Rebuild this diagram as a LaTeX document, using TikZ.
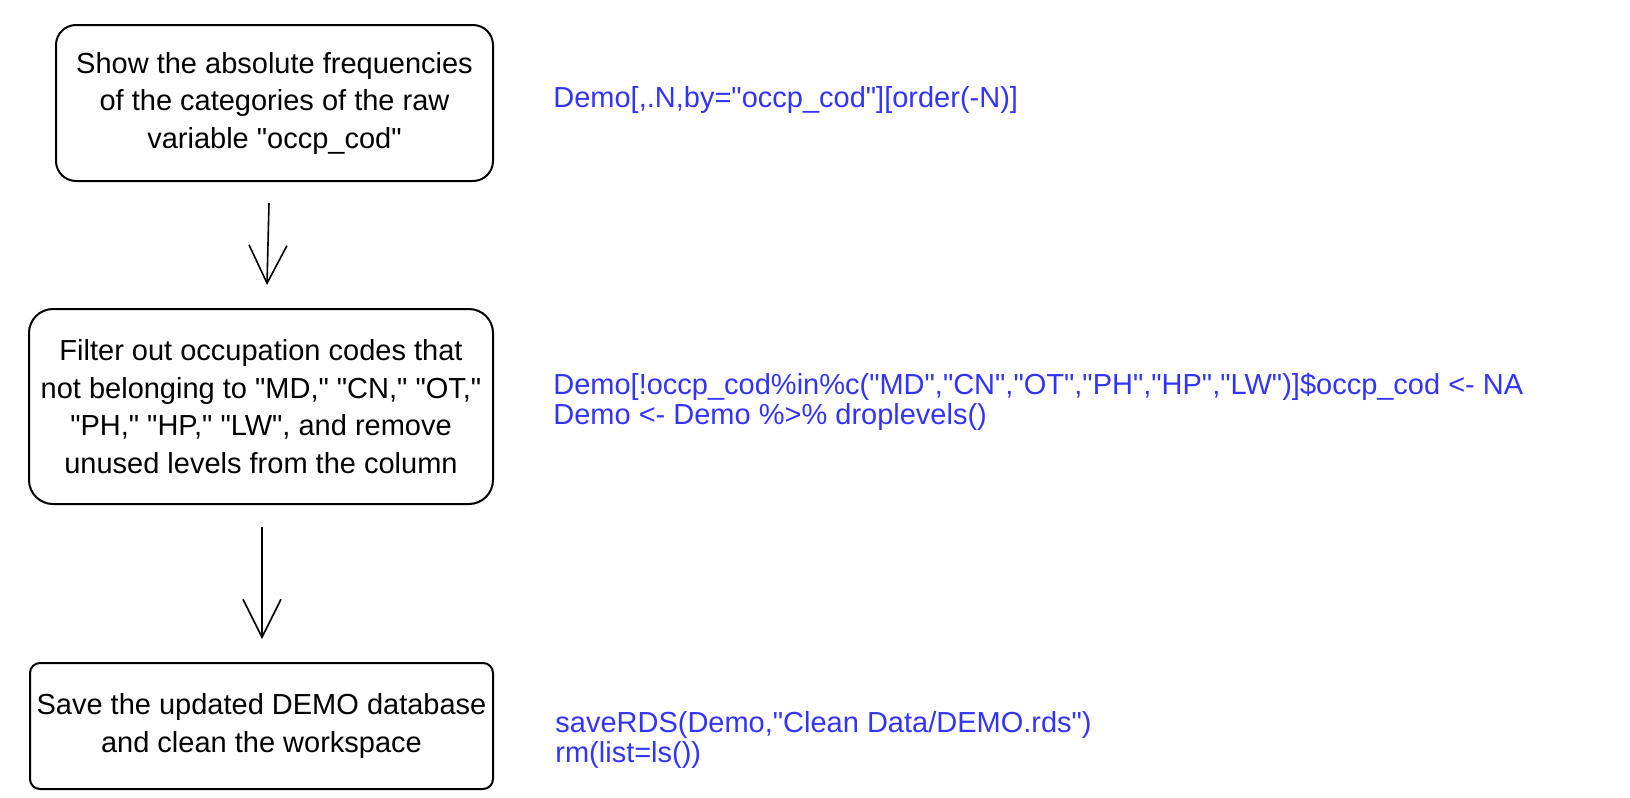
\documentclass[tikz,border=0pt]{standalone}
\usepackage{fontspec}
\setmainfont{Liberation Sans}[Ligatures=TeXOff]
\usetikzlibrary{arrows.meta}
\definecolor{codeblue}{HTML}{3333FF}
\begin{document}
\begin{tikzpicture}[x=0.5pt,y=-0.5pt,
 stepbox/.style={draw,line width=1pt,align=center,inner sep=0pt,font=\fontsize{14.5}{18.75}\selectfont},
 code/.style={text=codeblue,align=left,inner sep=0pt,anchor=base west,font=\fontsize{14.5}{15.25}\selectfont},
 flow/.style={line width=0.8pt,-{Straight Barb[length=19pt,width=19pt,line width=0.8pt]}}]
\useasboundingbox (0,0) rectangle (1630,798);
\node[stepbox,rounded corners=10pt,minimum width=218.5pt,minimum height=78pt] (b1) at (274.5,103)
  {Show the absolute frequencies\\of the categories of the raw\\variable "occp\_cod"};
\node[stepbox,rounded corners=12pt,minimum width=232pt,minimum height=97.5pt] (b2) at (261,406.5)
  {Filter out occupation codes that\\not belonging to "MD," "CN," "OT,"\\"PH," "HP," "LW", and remove\\unused levels from the column};
\node[stepbox,rounded corners=5pt,minimum width=231.5pt,minimum height=63pt] (b3) at (261.5,726)
  {Save the updated DEMO database\\and clean the workspace};
\node[code] (c1) at (553,107) {Demo[,.N,by="occp\_cod"][order(-N)]};
\node[code] (c2) at (553,424.5) {Demo[!occp\_cod\%in\%c("MD","CN","OT","PH","HP","LW")]\$occp\_cod <- NA\\Demo <- Demo \%>\% droplevels()};
\node[code] (c3) at (555,762.5) {saveRDS(Demo,"Clean Data/DEMO.rds")\\rm(list=ls())};
\draw[flow] ([xshift=-2.75pt,yshift=-10.5pt]b1.south) -- ([xshift=3pt,yshift=11.5pt]b2.north);
\draw[flow] ([xshift=0.5pt,yshift=-11pt]b2.south) -- ([xshift=0.25pt,yshift=11.5pt]b3.north);
\end{tikzpicture}
\end{document}
